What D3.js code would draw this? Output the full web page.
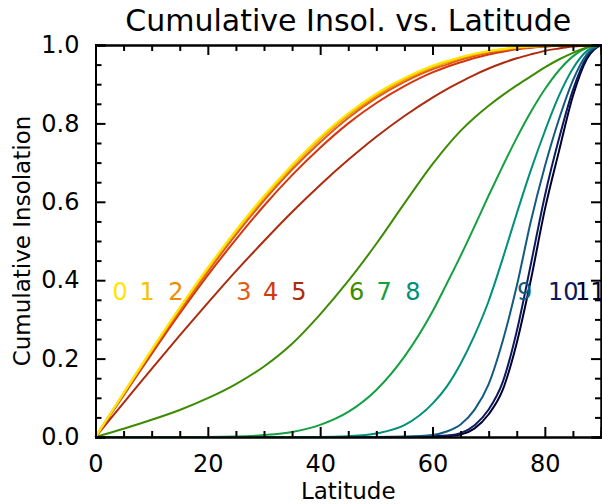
<!DOCTYPE html>
<html>
<head>
<meta charset="utf-8">
<script src="https://cdn.jsdelivr.net/npm/d3@7"></script>
<style>
  html, body { margin: 0; padding: 0; background: #ffffff; }
  svg { display: block; }
</style>
</head>
<body>
<svg id="chart" width="602" height="504"></svg>
<script>
// ---------------- data ----------------
const titleText = "Cumulative Insol. vs. Latitude";
const xAxisTitle = "Latitude";
const yAxisTitle = "Cumulative Insolation";

const latitudes = [0, 5, 10, 15, 20, 25, 30, 35, 40, 45, 50, 55, 60,
                   62.5, 65, 67.5, 70, 72.5, 75, 77.5, 80, 82.5, 85, 87.5, 90];

const seriesNames = ["0", "1", "2", "3", "4", "5", "6", "7", "8", "9", "10", "11"];

const series0  = [0, .112, .223, .330, .432, .527, .615, .694, .765, .826, .876, .916, .947, .959, .969, .978, .985, .990, .994, .997, .998, .999, 1, 1, 1];
const series1  = [0, .112, .222, .329, .430, .525, .613, .692, .763, .824, .874, .914, .945, .957, .968, .977, .984, .989, .994, .996, .998, .999, 1, 1, 1];
const series2  = [0, .111, .221, .327, .428, .523, .610, .689, .760, .821, .871, .912, .943, .955, .966, .975, .983, .988, .993, .995, .997, .999, 1, 1, 1];
const series3  = [0, .109, .218, .323, .422, .516, .603, .682, .752, .814, .865, .906, .938, .950, .962, .972, .980, .986, .991, .994, .997, .998, .999, 1, 1];
const series4  = [0, .106, .212, .315, .413, .504, .590, .668, .738, .800, .852, .895, .930, .944, .956, .967, .976, .983, .989, .993, .996, .998, .999, 1, 1];
const series5  = [0, .087, .174, .259, .342, .423, .500, .574, .643, .707, .766, .819, .866, .887, .906, .924, .940, .954, .966, .976, .985, .991, .996, .999, 1];
const series6  = [0, .021, .044, .069, .099, .135, .180, .238, .313, .398, .493, .596, .696, .741, .781, .815, .845, .872, .897, .920, .943, .963, .980, .994, 1];
const series7  = [0, 0, 0, 0, 0, .001, .005, .013, .031, .064, .120, .205, .320, .390, .462, .538, .616, .691, .763, .829, .887, .935, .971, .993, 1];
const series8  = [0, 0, 0, 0, 0, 0, 0, 0, 0, .002, .009, .030, .085, .128, .187, .260, .347, .455, .570, .680, .780, .870, .940, .985, 1];
const series9  = [0, 0, 0, 0, 0, 0, 0, 0, 0, 0, 0, .001, .005, .014, .032, .070, .135, .245, .385, .550, .690, .810, .910, .977, 1];
const series10 = [0, 0, 0, 0, 0, 0, 0, 0, 0, 0, 0, 0, .002, .004, .010, .030, .070, .140, .270, .440, .615, .760, .885, .970, 1];
const series11 = [0, 0, 0, 0, 0, 0, 0, 0, 0, 0, 0, 0, 0, .002, .006, .022, .058, .120, .240, .400, .580, .728, .870, .965, 1];

const allSeries = [series0, series1, series2, series3, series4, series5,
                   series6, series7, series8, series9, series10, series11];

// annotation anchors (data units): latitude of each series number, common value
const labelLatitudes = [4.4, 9.2, 14.3, 26.4, 31.2, 36.2, 46.5, 51.4, 56.5, 76.4, 83.3, 88.1];
const labelValue = 0.35;

const xTickValues = [0, 20, 40, 60, 80];
const xMinorTicks = [5, 10, 15, 25, 30, 35, 45, 50, 55, 65, 70, 75, 85];
const yTickValues = [0, 0.2, 0.4, 0.6, 0.8, 1.0];
const yTickLabels = ["0.0", "0.2", "0.4", "0.6", "0.8", "1.0"];
const yMinorTicks = [0.05, 0.1, 0.15, 0.25, 0.3, 0.35, 0.45, 0.5, 0.55, 0.65, 0.7, 0.75, 0.85, 0.9, 0.95];

const seriesColors = ["#ffe600", "#f7c000", "#ee8c00", "#e45a12", "#d6340c", "#ae2a0c",
                      "#3c8c00", "#12a040", "#00907a", "#135a80", "#0c1a5c", "#000032"];

// ---------------- layout ----------------
const svg = d3.select("#chart");
const margin = { left: 95.5, right: 1, top: 45, bottom: 67 };
const W = 602, H = 504;

const x = d3.scaleLinear().domain([0, 90]).range([margin.left, W - margin.right]);
const y = d3.scaleLinear().domain([0, 1]).range([H - margin.bottom, margin.top]);

const FONT = "DejaVu Sans, sans-serif";

// ---------------- curves (drawn last-to-first so series 0 sits on top) ----------------
const line = d3.line()
  .x((d, i) => x(latitudes[i]))
  .y(d => y(d))
  .curve(d3.curveMonotoneX);

const order = d3.range(allSeries.length).reverse();
svg.append("g").selectAll("path")
  .data(order)
  .join("path")
  .attr("d", k => line(allSeries[k]))
  .attr("fill", "none")
  .attr("stroke", k => seriesColors[k])
  .attr("stroke-width", 2);

// ---------------- axes ----------------
function styleAxis(g) {
  g.selectAll("path.domain").attr("stroke", "#000").attr("stroke-width", 2);
  g.selectAll(".tick line").attr("stroke", "#000").attr("stroke-width", 2);
  g.selectAll("text").attr("font-family", FONT).attr("font-size", 24).attr("fill", "#000");
}

const MAJ = 10, MIN = 6;

// bottom
svg.append("g")
  .attr("transform", `translate(0,${y(0)})`)
  .call(d3.axisBottom(x).tickValues(xTickValues).tickSize(-MAJ).tickPadding(MAJ + 8).tickFormat(d3.format("d")))
  .call(styleAxis);
svg.append("g")
  .attr("transform", `translate(0,${y(0)})`)
  .call(d3.axisBottom(x).tickValues(xMinorTicks).tickSize(-MIN).tickFormat(""))
  .call(styleAxis);
// top
svg.append("g")
  .attr("transform", `translate(0,${y(1)})`)
  .call(d3.axisTop(x).tickValues(xTickValues).tickSize(-MAJ).tickFormat(""))
  .call(styleAxis);
svg.append("g")
  .attr("transform", `translate(0,${y(1)})`)
  .call(d3.axisTop(x).tickValues(xMinorTicks).tickSize(-MIN).tickFormat(""))
  .call(styleAxis);
// left
svg.append("g")
  .attr("transform", `translate(${x(0)},0)`)
  .call(d3.axisLeft(y).tickValues(yTickValues).tickSize(-MAJ).tickPadding(MAJ + 6)
        .tickFormat((d, i) => yTickLabels[i]))
  .call(styleAxis);
svg.append("g")
  .attr("transform", `translate(${x(0)},0)`)
  .call(d3.axisLeft(y).tickValues(yMinorTicks).tickSize(-MIN).tickFormat(""))
  .call(styleAxis);
// right
svg.append("g")
  .attr("transform", `translate(${x(90)},0)`)
  .call(d3.axisRight(y).tickValues(yTickValues).tickSize(-MAJ).tickFormat(""))
  .call(styleAxis);
svg.append("g")
  .attr("transform", `translate(${x(90)},0)`)
  .call(d3.axisRight(y).tickValues(yMinorTicks).tickSize(-MIN).tickFormat(""))
  .call(styleAxis);

// ---------------- series labels ----------------
svg.append("g").selectAll("text")
  .data(seriesNames)
  .join("text")
  .attr("x", (d, i) => x(labelLatitudes[i]))
  .attr("y", y(labelValue))
  .attr("text-anchor", "middle")
  .attr("font-family", FONT)
  .attr("font-size", 24)
  .style("fill", (d, i) => seriesColors[i])
  .text(d => d);

// ---------------- titles ----------------
svg.append("text")
  .attr("x", (x(0) + x(90)) / 2)
  .attr("y", 31)
  .attr("text-anchor", "middle")
  .attr("font-family", FONT)
  .attr("font-size", 30)
  .attr("fill", "#000")
  .text(titleText);

svg.append("text")
  .attr("x", (x(0) + x(90)) / 2)
  .attr("y", 499)
  .attr("text-anchor", "middle")
  .attr("font-family", FONT)
  .attr("font-size", 23)
  .attr("fill", "#000")
  .text(xAxisTitle);

svg.append("text")
  .attr("transform", `translate(30,${(y(0) + y(1)) / 2}) rotate(-90)`)
  .attr("text-anchor", "middle")
  .attr("font-family", FONT)
  .attr("font-size", 23)
  .attr("fill", "#000")
  .text(yAxisTitle);
</script>
</body>
</html>
